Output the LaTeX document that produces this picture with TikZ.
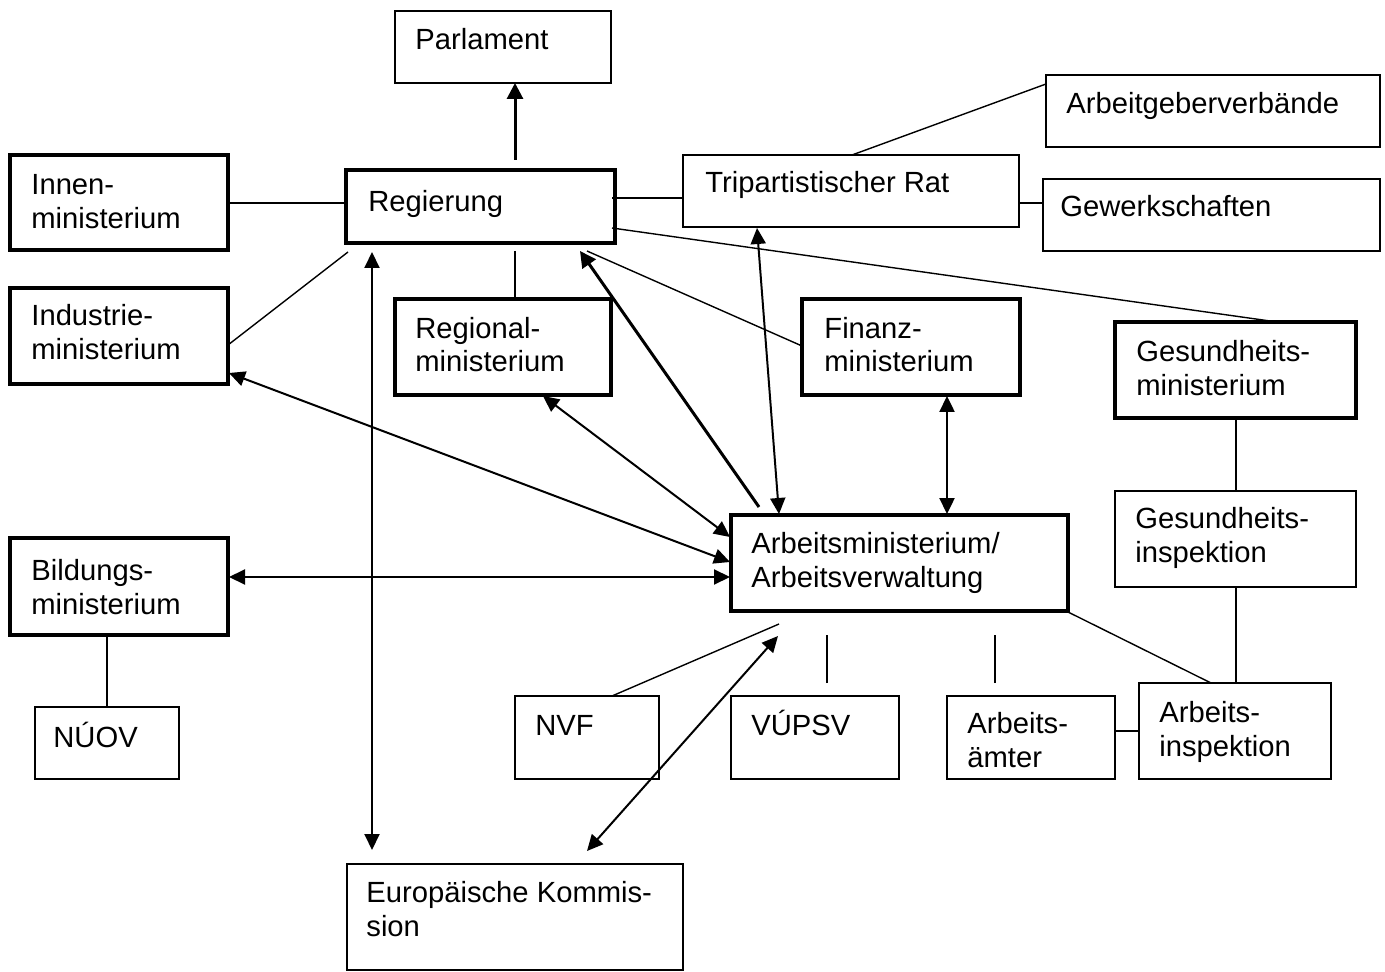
\documentclass[tikz,border=0pt]{standalone}
\usepackage{fontspec}
\setmainfont{Liberation Sans}
\usetikzlibrary{arrows.meta,fit,calc}
\begin{document}
\begin{tikzpicture}[x=0.5pt,y=-0.5pt,
  thinbox/.style={draw,line width=0.7pt,inner sep=0pt,outer sep=0pt},
  thickbox/.style={draw,line width=2pt,inner sep=0pt,outer sep=0pt},
  lbl/.style={anchor=base west,inner sep=0pt,align=left,font=\fontsize{14.6}{17}\selectfont},
  link/.style={line width=0.7pt},
  dbl/.style={line width=1pt,{Triangle[length=8pt,width=7.5pt]}-{Triangle[length=8pt,width=7.5pt]}},
  bigarrow/.style={line width=1.5pt,-{Triangle[length=8pt,width=8pt]}}]
\useasboundingbox (0,0) rectangle (1385,972);
% boxes
\node[thinbox,fit={(395,11)(611,83)}] (parl) {};
\node[thickbox,fit={(346,170)(615,243)}] (reg) {};
\node[thickbox,fit={(10,155)(228,250)}] (innen) {};
\node[thickbox,fit={(10,288)(228,384)}] (indus) {};
\node[thickbox,fit={(10,538)(228,635)}] (bild) {};
\node[thinbox,fit={(35,707)(179,779)}] (nuov) {};
\node[thickbox,fit={(395,299)(611,395)}] (regio) {};
\node[thickbox,fit={(802,299)(1020,395)}] (finanz) {};
\node[thinbox,fit={(683,155)(1019,227)}] (trip) {};
\node[thinbox,fit={(1046,75)(1380,147)}] (arbg) {};
\node[thinbox,fit={(1043,179)(1380,251)}] (gew) {};
\node[thickbox,fit={(1115,322)(1356,418)}] (gesm) {};
\node[thinbox,fit={(1115,491)(1356,587)}] (gesi) {};
\node[thickbox,fit={(731,515)(1068,611)}] (arb) {};
\node[thinbox,fit={(515,696)(659,779)}] (nvf) {};
\node[thinbox,fit={(731,696)(899,779)}] (vup) {};
\node[thinbox,fit={(947,696)(1115,779)}] (aem) {};
\node[thinbox,fit={(1139,683)(1331,779)}] (ainsp) {};
\node[thinbox,fit={(347,864)(683,970)}] (eu) {};
% labels (anchor = baseline of the last line)
\node[lbl] (parl-t) at (415,50) {Parlament};
\node[lbl] (reg-t) at (368,212) {Regierung};
\node[lbl] (innen-t) at (31,229) {Innen-\\ministerium};
\node[lbl] (indus-t) at (31,360) {Industrie-\\ministerium};
\node[lbl] (bild-t) at (31,614) {Bildungs-\\ministerium};
\node[lbl] (nuov-t) at (53,747) {NÚOV};
\node[lbl] (regio-t) at (415,372) {Regional-\\ministerium};
\node[lbl] (finanz-t) at (824,372) {Finanz-\\ministerium};
\node[lbl] (trip-t) at (705,193) {Tripartistischer Rat};
\node[lbl] (arbg-t) at (1066,114) {Arbeitgeberverbände};
\node[lbl] (gew-t) at (1060,217) {Gewerkschaften};
\node[lbl] (gesm-t) at (1136,396) {Gesundheits-\\ministerium};
\node[lbl] (gesi-t) at (1135,562) {Gesundheits-\\inspektion};
\node[lbl] (arb-t) at (751,587) {Arbeitsministerium/\\Arbeitsverwaltung};
\node[lbl] (nvf-t) at (535,735) {NVF};
\node[lbl] (vup-t) at (751,735) {VÚPSV};
\node[lbl] (aem-t) at (967,767) {Arbeits-\\ämter};
\node[lbl] (ainsp-t) at (1159,756) {Arbeits-\\inspektion};
\node[lbl] (eu-t) at (366,936) {Europäische Kommis-\\sion};
% plain links
\draw[link] ([shift={(218,48)}]innen.north west) -- ([shift={(0,33)}]reg.north west);
\draw[link] ([shift={(218,57)}]indus.north west) -- ([shift={(2,82)}]reg.north west);
\draw[link] ([shift={(169,81)}]reg.north west) -- ([shift={(120,0)}]regio.north west);
\draw[link] ([shift={(266,28)}]reg.north west) -- ([shift={(0,43)}]trip.north west);
\draw[link] ([shift={(266,58)}]reg.north west) -- ([shift={(162,0)}]gesm.north west);
\draw[link] ([shift={(0,47)}]finanz.north west) -- ([shift={(241,81)}]reg.north west);
\draw[link] ([shift={(97,0)}]nvf.north west) -- ([shift={(48,109)}]arb.north west);
\draw[link] ([shift={(96,-13)}]vup.north west) -- ([shift={(96,120)}]arb.north west);
\draw[link] ([shift={(48,-13)}]aem.north west) -- ([shift={(264,120)}]arb.north west);
\draw[link] ([shift={(337,97)}]arb.north west) -- ([shift={(72,0)}]ainsp.north west);
\draw[link] ([shift={(121,96)}]gesm.north west) -- ([shift={(121,0)}]gesi.north west);
\draw[link] ([shift={(121,96)}]gesi.north west) -- ([shift={(97,0)}]ainsp.north west);
\draw[link] ([shift={(168,35)}]aem.north west) -- ([shift={(0,48)}]ainsp.north west);
\draw[link] ([shift={(336,48)}]trip.north west) -- ([shift={(0,24)}]gew.north west);
\draw[link] ([shift={(169,0)}]trip.north west) -- ([shift={(0,9)}]arbg.north west);
\draw[link] ([shift={(97,97)}]bild.north west) -- ([shift={(72,0)}]nuov.north west);
% arrows
\draw[bigarrow] ([shift={(169,-10)}]reg.north west) -- ([shift={(120,72)}]parl.north west);
\draw[bigarrow] ([shift={(28,-8)}]arb.north west) -- ([shift={(234,81)}]reg.north west);
\draw[dbl] ([shift={(74,73)}]trip.north west) -- ([shift={(48,-1)}]arb.north west);
\draw[dbl,line width=1.2pt] ([shift={(145,97)}]finanz.north west) -- ([shift={(216,-1)}]arb.north west);
\draw[dbl] ([shift={(148,97)}]regio.north west) -- ([shift={(-1,22)}]arb.north west);
\draw[dbl] ([shift={(219,85)}]indus.north west) -- ([shift={(-1,47)}]arb.north west);
\draw[dbl] ([shift={(219,39)}]bild.north west) -- ([shift={(-1,62)}]arb.north west);
\draw[dbl] ([shift={(26,82)}]reg.north west) -- ([shift={(25,-14)}]eu.north west);
\draw[dbl] ([shift={(47,121)}]arb.north west) -- ([shift={(240,-13)}]eu.north west);
\end{tikzpicture}
\end{document}
